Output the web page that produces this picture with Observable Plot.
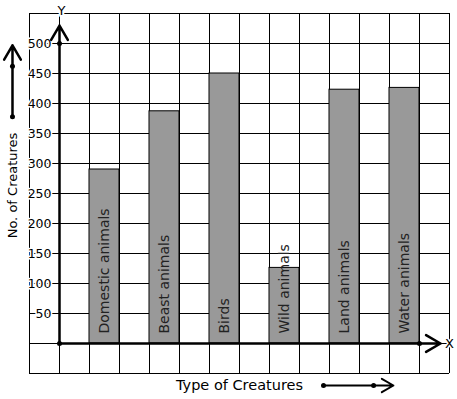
<!DOCTYPE html>
<html>
<head>
<meta charset="utf-8">
<script src="https://cdn.jsdelivr.net/npm/d3@7"></script>
<script src="https://cdn.jsdelivr.net/npm/@observablehq/plot@0.6"></script>
<style>
  html, body { margin: 0; padding: 0; background: #fff; }
</style>
</head>
<body>
<div id="chart"></div>
<script>
// Data
const categories = ["Domestic animals", "Beast animals", "Birds", "Wild animals", "Land animals", "Water animals"];
const values = [290, 387, 450, 126, 423, 426];
const yTicks = [50, 100, 150, 200, 250, 300, 350, 400, 450, 500];
const yLabel = "No. of Creatures";
const xLabel = "Type of Creatures";

// Layout in "grid cell" units for x
const yAxisAt = 1;          // column of the Y axis
const gridCols = d3.range(0, 15);
const gridRows = d3.range(-50, 551, 50);

const data = categories.map((c, i) => ({ name: c, value: values[i], pos: 2 + 2 * i }));

const chart = Plot.plot({
  width: 457,
  height: 399,
  marginLeft: 29,
  marginRight: 8,
  marginTop: 13,
  marginBottom: 26,
  x: { domain: [0, 14], axis: null },
  y: { domain: [-50, 550], axis: null },
  style: { fontFamily: "DejaVu Sans", fontSize: "12px", background: "#fff", color: "#000" },
  marks: [
    Plot.gridX(gridCols, { stroke: "#000", strokeOpacity: 1, strokeWidth: 1 }),
    Plot.gridY(gridRows, { stroke: "#000", strokeOpacity: 1, strokeWidth: 1 }),
    Plot.rect(data, { x1: "pos", x2: d => d.pos + 1, y1: 0, y2: "value", fill: "#999", stroke: "#000", strokeWidth: 1 }),
    Plot.text(data, { x: d => d.pos + 0.5, y: 0, text: "name", rotate: -90, textAnchor: "start", dy: -10, fill: "#222", fontSize: 14 }),
    // Y tick marks and labels
    Plot.link(yTicks, { x1: yAxisAt - 0.23, x2: yAxisAt, y1: d => d, y2: d => d, stroke: "#000", strokeWidth: 1 }),
    Plot.text(yTicks, { x: yAxisAt, y: d => d, text: d => String(d), textAnchor: "end", dx: -8, fill: "#000", stroke: "#fff", strokeWidth: 3, fontSize: 12.5 }),
    // Axes with arrows
    Plot.arrow([{ x1: yAxisAt, y1: 0, x2: yAxisAt, y2: 530 }], { x1: "x1", y1: "y1", x2: "x2", y2: "y2", stroke: "#000", strokeWidth: 2.5, headLength: 10 }),
    Plot.arrow([{ x1: yAxisAt, y1: 0, x2: 13.7, y2: 0 }], { x1: "x1", y1: "y1", x2: "x2", y2: "y2", stroke: "#000", strokeWidth: 2.5, headLength: 10 }),
    Plot.dot([{ x: yAxisAt, y: 0 }, { x: yAxisAt, y: 500 }, { x: 13, y: 0 }], { x: "x", y: "y", r: 2.5, fill: "#000" }),
    Plot.text(["Y"], { x: yAxisAt, y: 530, dy: -15, dx: 2, text: d => d, fill: "#000", stroke: "#fff", strokeWidth: 4, fontSize: 13 }),
    Plot.text(["X"], { x: 13.7, y: 0, dx: 9, text: d => d, fill: "#000", stroke: "#fff", strokeWidth: 3, fontSize: 13 }),
    // Axis titles
    Plot.text([yLabel], { frameAnchor: "left", textAnchor: "middle", lineAnchor: "middle", rotate: -90, dx: -17, dy: -8, text: d => d, fill: "#000", fontSize: 13 }),
    Plot.text([xLabel], { frameAnchor: "bottom", textAnchor: "middle", lineAnchor: "middle", dy: 12, text: d => d, fill: "#000", fontSize: 14.5 }),
    // Decorative direction arrows
    Plot.arrow([{ x1: -0.567, y1: 378, x2: -0.567, y2: 497 }], { x1: "x1", y1: "y1", x2: "x2", y2: "y2", stroke: "#000", strokeWidth: 2.5, headLength: 10 }),
    Plot.dot([{ x: -0.567, y: 378 }, { x: -0.567, y: 462 }], { x: "x", y: "y", r: 2.5, fill: "#000" }),
    Plot.arrow([{ x1: 9.8, y1: -70, x2: 12.13, y2: -70 }], { x1: "x1", y1: "y1", x2: "x2", y2: "y2", stroke: "#000", strokeWidth: 2, headLength: 10 }),
    Plot.dot([{ x: 9.8, y: -70 }, { x: 11.47, y: -70 }], { x: "x", y: "y", r: 2.5, fill: "#000" })
  ]
});
document.getElementById("chart").appendChild(chart);
</script>
</body>
</html>
